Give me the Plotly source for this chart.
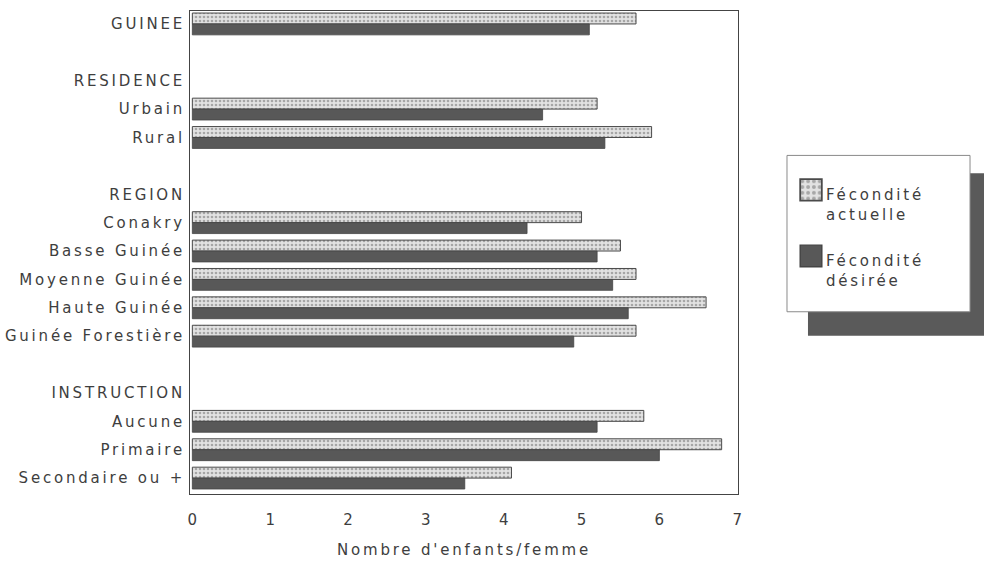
import plotly.graph_objects as go

# Rows of the chart (headers and blank spacer rows included)
rows = ["GUINEE", " ", "RESIDENCE", "Urbain", "Rural", "  ", "REGION",
        "Conakry", "Basse Guinée", "Moyenne Guinée", "Haute Guinée",
        "Guinée Forestière", "   ", "INSTRUCTION", "Aucune", "Primaire",
        "Secondaire ou +"]

categories = ["GUINEE", "Urbain", "Rural", "Conakry", "Basse Guinée",
              "Moyenne Guinée", "Haute Guinée", "Guinée Forestière",
              "Aucune", "Primaire", "Secondaire ou +"]
fec_actuelle = [5.7, 5.2, 5.9, 5.0, 5.5, 5.7, 6.6, 5.7, 5.8, 6.8, 4.1]
fec_desiree = [5.1, 4.5, 5.3, 4.3, 5.2, 5.4, 5.6, 4.9, 5.2, 6.0, 3.5]

x_ticks = [0, 1, 2, 3, 4, 5, 6, 7]

txt = "#3e3e3e"
font_family = "DejaVu Sans"

fig = go.Figure()
fig.add_trace(go.Bar(
    y=categories, x=fec_actuelle, orientation="h",
    name="Fécondité<br>actuelle", legendgroup="a",
    marker=dict(color="#dcdcdc",
                line=dict(color="#4a4a4a", width=1),
                pattern=dict(shape=".", size=4, solidity=0.35,
                             fgcolor="#6a6a6a", bgcolor="#e2e2e2",
                             fillmode="overlay")),
))
fig.add_trace(go.Bar(
    y=categories, x=fec_desiree, orientation="h",
    name="Fécondité<br>désirée", legendgroup="d",
    marker=dict(color="#585858", line=dict(color="#444444", width=0.8)),
))

# legend shadow and legend frame
fig.add_shape(type="rect", xref="paper", yref="paper",
              x0=1.1277, x1=1.47, y0=0.3278, y1=0.664,
              fillcolor="#5a5a5a", line=dict(width=0), layer="below")
fig.add_shape(type="rect", xref="paper", yref="paper",
              x0=1.0894, x1=1.4234, y0=0.3773, y1=0.7010,
              fillcolor="white", line=dict(color="#8a8a8a", width=1),
              layer="below")

fig.update_layout(
    width=984, height=566,
    margin=dict(l=190, r=246, t=10, b=71),
    paper_bgcolor="white", plot_bgcolor="white",
    barmode="group", bargap=0.23, bargroupgap=0.0,
    font=dict(family=font_family, size=15, color=txt),
    showlegend=True,
    legend=dict(x=1.0876, y=0.6544, xanchor="left", yanchor="top",
                bgcolor="rgba(0,0,0,0)", borderwidth=0,
                font=dict(family=font_family, size=15, color=txt),
                traceorder="grouped", itemwidth=30, tracegroupgap=24),
    xaxis=dict(range=[-0.03, 7.01], tickmode="array", tickvals=x_ticks,
               ticktext=[str(v) for v in x_ticks], showgrid=False,
               zeroline=False, showline=True, linecolor="#444444",
               linewidth=1, mirror=True, ticks="", ticklabelstandoff=12,
               tickfont=dict(size=15, color=txt),
               title=dict(text="Nombre d'enfants/femme", standoff=16,
                          font=dict(size=15, color=txt))),
    yaxis=dict(type="category", categoryorder="array", categoryarray=rows,
               range=[16.56, -0.456], showgrid=False, zeroline=False,
               showline=True, linecolor="#444444", linewidth=1,
               mirror=True, ticks="", ticklabelstandoff=1,
               tickmode="array", tickvals=rows, ticktext=rows,
               tickfont=dict(size=15, color=txt)),
)

post = (
    "var s=document.createElement('style');"
    "s.textContent='body{margin:0 !important;}"
    " .ytick text, .legendtext, .g-xtitle text{letter-spacing:2.8px;}"
    " .legend .scrollbox{clip-path:none !important;}"
    " .legend .legendpoints path{transform:translate(25px,-14px) scale(1.8);}';"
    "document.head.appendChild(s);"
)

fig.write_html("out.html", post_script=post,
               config={"displayModeBar": False})
